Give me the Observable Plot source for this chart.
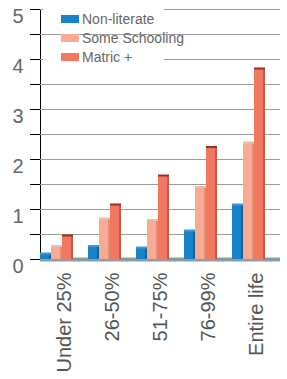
<!DOCTYPE html>
<html>
<head>
<meta charset="utf-8">
<script src="https://cdn.jsdelivr.net/npm/d3@7"></script>
<script src="https://cdn.jsdelivr.net/npm/@observablehq/plot@0.6"></script>
<style>
  html, body { margin: 0; padding: 0; background: #fff; }
  #wrap { position: relative; width: 287px; height: 379px; overflow: hidden; }
  #wrap svg { font-family: "Liberation Sans", Arial, sans-serif; }
  #wrap svg g[aria-label^="y-axis"] text { font-size: 20px; fill: #666; dominant-baseline: central; }
  #wrap svg g[aria-label^="fx-axis"] text { font-size: 20px; fill: #555; }
  #legend { position: absolute; left: 61px; top: 9px; font-family: "Liberation Sans", Arial, sans-serif; font-size: 14px; color: #666; }
  .row { display: flex; align-items: center; height: 19px; }
  .sw { width: 18px; height: 8px; margin-right: 3px; }
  .cover { position: absolute; background: #fff; }
</style>
</head>
<body>
<div id="wrap"></div>
<script>
const groups = ["Under 25%", "26-50%", "51-75%", "76-99%", "Entire life"];
const series = ["Non-literate", "Some Schooling", "Matric +"];
const nonLiterate   = [0.10, 0.25, 0.22, 0.56, 1.08];
const someSchooling = [0.25, 0.80, 0.77, 1.43, 2.32];
const matric        = [0.46, 1.08, 1.66, 2.23, 3.80];
const yTicks = [0, 0.5, 1, 1.5, 2, 2.5, 3, 3.5, 4, 4.5, 5];
const gridValues = [0.5, 1, 1.5, 2, 2.5, 3, 3.5, 4, 4.5, 5];

const fills = ["#1a82c6", "#f7ab94", "#f07860"];
const sides = ["#0d65a0", "#e08d76", "#c9584a"];
const caps  = ["#3d9bd6", "#f2bca9", "#9c2c24"];

const valuesBySeries = [nonLiterate, someSchooling, matric];
const data = [];
series.forEach((s, i) => groups.forEach((g, j) => data.push({group: g, series: s, value: valuesBySeries[i][j], si: i})));

const barMarks = [];
series.forEach((s, i) => {
  const d = data.filter(r => r.si === i);
  barMarks.push(Plot.barY(d, {fx: "group", x: "series", y: "value", fill: fills[i]}));
  barMarks.push(Plot.barY(d, {fx: "group", x: "series", y: "value", fill: sides[i], insetLeft: 9}));
  barMarks.push(Plot.tickY(d, {fx: "group", x: "series", y: "value", stroke: caps[i], strokeWidth: 2, dy: -1}));
});

const chart = Plot.plot({
  width: 287,
  height: 379,
  marginLeft: 38,
  marginRight: 5,
  marginTop: 9,
  marginBottom: 120,
  facet: {data: data, x: "group"},
  fx: {domain: groups, padding: 0, label: null, axis: "bottom", tickSize: 0, tickPadding: 13, tickRotate: -90},
  x: {domain: series, axis: null, paddingInner: 0, paddingOuter: 0.53, align: 0},
  y: {domain: [0, 5], ticks: yTicks, tickFormat: d => (d % 1 === 0 ? String(d) : ""), tickSize: 10, tickPadding: 7, label: null, line: true},
  marks: [
    Plot.ruleY(gridValues, {stroke: "#9c9c9c", strokeWidth: 1}),
    Plot.ruleY([0], {stroke: "#8d9da5", strokeWidth: 4}),
    ...barMarks
  ]
});
document.getElementById("wrap").appendChild(chart);

// legend
const legend = document.createElement("div");
legend.id = "legend";
series.forEach((s, i) => {
  const row = document.createElement("div");
  row.className = "row";
  const sw = document.createElement("div");
  sw.className = "sw";
  sw.style.background = fills[i];
  const t = document.createElement("span");
  t.textContent = s;
  row.appendChild(sw);
  row.appendChild(t);
  legend.appendChild(row);
});
const c1 = document.createElement("div"); c1.className = "cover";
Object.assign(c1.style, {left: "43px", top: "5px", width: "121px", height: "7px"});
const c2 = document.createElement("div"); c2.className = "cover";
Object.assign(c2.style, {left: "43px", top: "54px", width: "121px", height: "8px"});
document.getElementById("wrap").appendChild(c1);
document.getElementById("wrap").appendChild(c2);
document.getElementById("wrap").appendChild(legend);
</script>
</body>
</html>
